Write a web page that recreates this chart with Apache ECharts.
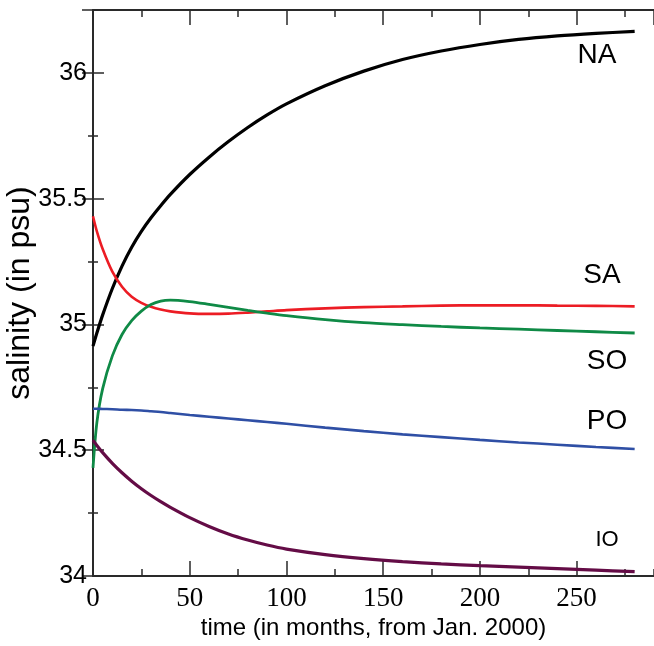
<!DOCTYPE html>
<html>
<head>
<meta charset="utf-8">
<script src="https://cdn.jsdelivr.net/npm/echarts@6/dist/echarts.min.js"></script>
<style>
  html, body { margin: 0; padding: 0; background: #ffffff; }
  #chart { width: 654px; height: 646px; }
</style>
</head>
<body>
<div id="chart"></div>
<script>
// time in months from Jan. 2000
const months = [0, 2, 5, 10, 15, 20, 25, 30, 35, 40, 50, 60, 70, 80, 90, 100, 120, 140, 160, 180, 200, 220, 240, 260, 280]

// salinity (psu) per basin
const naValues = [34.914, 34.966, 35.038, 35.143, 35.232, 35.307, 35.37, 35.424, 35.472, 35.517, 35.596, 35.665, 35.727, 35.783, 35.833, 35.877, 35.949, 36.007, 36.053, 36.087, 36.113, 36.133, 36.147, 36.157, 36.165]
const saValues = [35.43, 35.37, 35.30, 35.21, 35.15, 35.11, 35.086, 35.07, 35.059, 35.052, 35.044, 35.042, 35.043, 35.047, 35.052, 35.057, 35.064, 35.069, 35.072, 35.075, 35.076, 35.076, 35.075, 35.074, 35.072]
const soValues = [34.43, 34.61, 34.745, 34.875, 34.96, 35.015, 35.053, 35.079, 35.093, 35.097, 35.091, 35.08, 35.068, 35.056, 35.045, 35.035, 35.019, 35.007, 34.999, 34.992, 34.986, 34.981, 34.976, 34.971, 34.966]
const poValues = [34.665, 34.665, 34.664, 34.663, 34.661, 34.66, 34.658, 34.655, 34.652, 34.648, 34.64, 34.633, 34.626, 34.619, 34.612, 34.605, 34.59, 34.576, 34.563, 34.552, 34.541, 34.531, 34.522, 34.513, 34.505]
const ioValues = [34.54, 34.519, 34.4905, 34.448, 34.4105, 34.377, 34.347, 34.32, 34.2955, 34.273, 34.232, 34.197, 34.167, 34.143, 34.123, 34.107, 34.085, 34.069, 34.057, 34.048, 34.041, 34.035, 34.029, 34.023, 34.017]

const basinNames = ['NA', 'SA', 'SO', 'PO', 'IO']

const chart = echarts.init(document.getElementById('chart'), null, { renderer: 'canvas' })

const sans = '"Liberation Sans", Arial, sans-serif'
const axisColor = '#2a2a2a'

function pairs(values) {
  const out = []
  for (let i = 0; i < months.length; ++i) {
    out.push([months[i], values[i]])
  }
  return out
}

function line(name, values, color, width) {
  return {
    name: name,
    type: 'line',
    data: pairs(values),
    smooth: 0.3,
    showSymbol: false,
    symbol: 'none',
    lineStyle: { color: color, width: width },
    z: 3
  }
}

// x axes: bottom (major + minor), top (major + minor), ticks pointing in
function xAxis(position, interval, tickLen, withLabels, withLine) {
  return {
    type: 'value',
    position: position,
    min: 0,
    max: 290,
    interval: interval,
    axisLine: { show: withLine, lineStyle: { color: axisColor, width: 2 } },
    axisTick: { show: true, inside: true, length: tickLen, lineStyle: { color: axisColor, width: 1.5 } },
    axisLabel: {
      show: withLabels,
      showMaxLabel: false,
      margin: 9,
      color: '#000',
      fontFamily: '"Liberation Serif", serif',
      fontSize: 27
    },
    splitLine: { show: false }
  }
}

function yAxis(position, interval, tickLen, withLabels, withLine) {
  return {
    type: 'value',
    position: position,
    min: 34,
    max: 36.25,
    interval: interval,
    axisLine: { show: withLine, lineStyle: { color: axisColor, width: 2 } },
    axisTick: { show: true, inside: true, length: tickLen, lineStyle: { color: axisColor, width: 1.5 } },
    axisLabel: {
      show: withLabels,
      showMaxLabel: false,
      margin: 6,
      color: '#000',
      fontFamily: sans,
      fontSize: 25
    },
    splitLine: { show: false }
  }
}

const xBottom = xAxis('bottom', 50, 15, true, true)
xBottom.name = 'time (in months, from Jan. 2000)'
xBottom.nameLocation = 'middle'
xBottom.nameGap = 40
xBottom.nameMoveOverlap = false
xBottom.nameTextStyle = { color: '#000', fontFamily: sans, fontSize: 24 }

const yLeft = yAxis('left', 0.5, 11, true, true)
yLeft.name = 'salinity (in psu)'
yLeft.nameLocation = 'middle'
yLeft.nameGap = 57
yLeft.nameMoveOverlap = false
yLeft.nameTextStyle = { color: '#000', fontFamily: sans, fontSize: 32 }

const labelStyle = (text, x, y, size) => ({
  type: 'text',
  x: x,
  y: y,
  style: {
    text: text,
    fill: '#000',
    font: size + 'px ' + sans,
    textAlign: 'center',
    textVerticalAlign: 'middle'
  }
})

const option = {
  backgroundColor: '#ffffff',
  animation: false,
  grid: { left: 93, right: 0, top: 10, bottom: 70, containLabel: false, outerBoundsMode: 'none' },
  xAxis: [
    xBottom,
    xAxis('bottom', 25, 7, false, false),
    xAxis('top', 50, 15, false, true),
    xAxis('top', 25, 7, false, false)
  ],
  yAxis: [
    yLeft,
    yAxis('left', 0.25, 5, false, false),
    yAxis('right', 0.5, 11, false, false),
    yAxis('right', 0.25, 5, false, false)
  ],
  series: [
    line(basinNames[0], naValues, '#000000', 3.2),
    line(basinNames[1], saValues, '#ec1c24', 2.6),
    line(basinNames[2], soValues, '#0f8a46', 2.8),
    line(basinNames[3], poValues, '#2f4fa5', 2.6),
    line(basinNames[4], ioValues, '#640c46', 3.2)
  ],
  graphic: [
    labelStyle(basinNames[0], 597, 55, 28),
    labelStyle(basinNames[1], 602, 275, 28),
    labelStyle(basinNames[2], 607, 361, 28),
    labelStyle(basinNames[3], 607, 421, 28),
    labelStyle(basinNames[4], 607, 540, 22)
  ]
}

chart.setOption(option)
</script>
</body>
</html>
